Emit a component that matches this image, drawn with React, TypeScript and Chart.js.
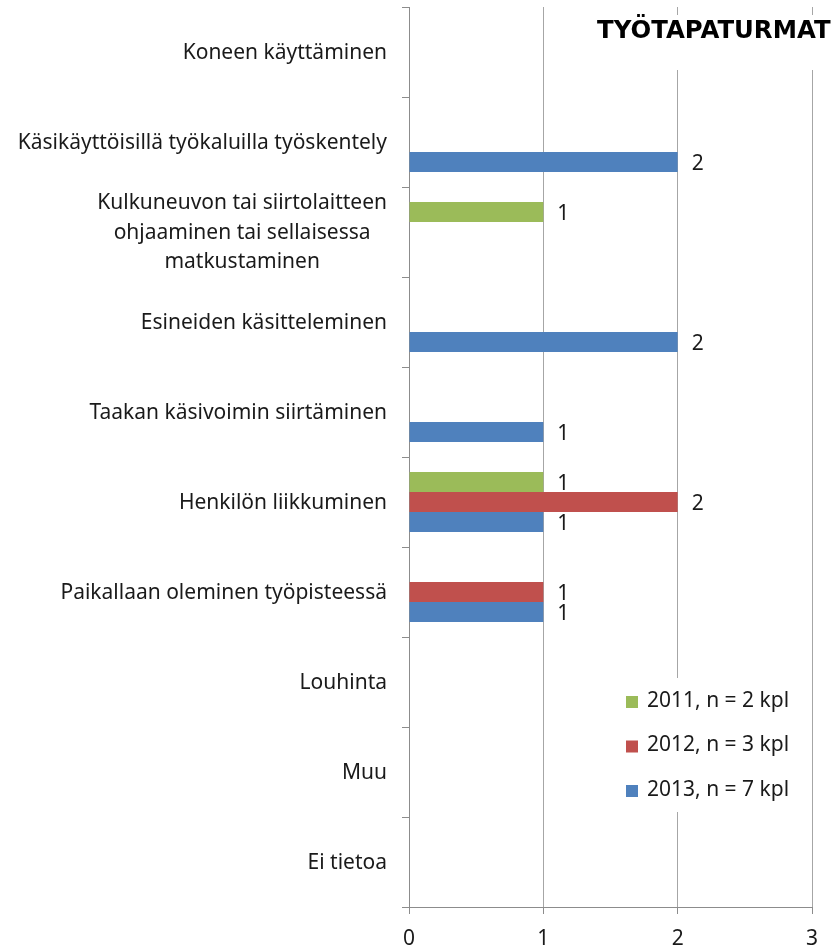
import React, { useEffect, useRef } from "react";
import { Chart, registerables } from "chart.js";
Chart.register(...registerables);

const categories: (string | string[])[] = [
  "Koneen käyttäminen",
  "Käsikäyttöisillä työkaluilla työskentely",
  ["Kulkuneuvon tai siirtolaitteen", "ohjaaminen tai sellaisessa", "matkustaminen"],
  "Esineiden käsitteleminen",
  "Taakan käsivoimin siirtäminen",
  "Henkilön liikkuminen",
  "Paikallaan oleminen työpisteessä",
  "Louhinta",
  "Muu",
  "Ei tietoa",
];
const series2011 = [null, null, 1, null, null, 1, null, null, null, null];
const series2012 = [null, null, null, null, null, 2, 1, null, null, null];
const series2013 = [null, 2, null, 2, 1, 1, 1, null, null, null];
const seriesLabels = ["2011, n = 2 kpl", "2012, n = 3 kpl", "2013, n = 7 kpl"];
const seriesColors = ["#9BBB59", "#C0504D", "#4F81BD"];
const xMin = 0;
const xMax = 3;
const titleText = "TYÖTAPATURMAT";

const FONT = '"Noto Sans", sans-serif';
const FSIZE = 21;
const TEXT = "#1a1a1a";
const GRID = "#a6a6a6";
const AXIS = "#8c8c8c";

const yLabelPlugin = {
  id: "yLabels",
  afterDraw(chart: any) {
    const ctx = chart.ctx;
    const y = chart.scales.y;
    ctx.save();
    ctx.font = `${FSIZE}px ${FONT}`;
    ctx.fillStyle = TEXT;
    ctx.textAlign = "center";
    ctx.textBaseline = "middle";
    categories.forEach((c, i) => {
      const lines = Array.isArray(c) ? c : [c];
      const w = Math.max(...lines.map((l) => ctx.measureText(l).width));
      const cx = y.right - 22 - w / 2;
      const cy = y.getPixelForTick(i) + 1;
      const lh = 29.5;
      lines.forEach((l, j) => ctx.fillText(l, cx, cy + (j - (lines.length - 1) / 2) * lh));
    });
    ctx.restore();
  },
};

const dataLabelPlugin = {
  id: "dataLabels",
  afterDatasetsDraw(chart: any) {
    const ctx = chart.ctx;
    ctx.save();
    ctx.font = `${FSIZE}px ${FONT}`;
    ctx.fillStyle = TEXT;
    ctx.textAlign = "left";
    ctx.textBaseline = "middle";
    chart.data.datasets.forEach((ds: any, di: number) => {
      const meta = chart.getDatasetMeta(di);
      meta.data.forEach((el: any, i: number) => {
        const v = ds.data[i];
        if (v === null || v === undefined) return;
        ctx.fillText(String(v), el.x + 14, el.y + 2);
      });
    });
    ctx.restore();
  },
};

const overlayPlugin = {
  id: "overlay",
  afterDraw(chart: any) {
    const ctx = chart.ctx;
    ctx.save();
    // title box
    ctx.fillStyle = "#ffffff";
    ctx.fillRect(582, 15, chart.width - 582, 55);
    ctx.fillStyle = "#000000";
    ctx.font = `bold 24.4px "DejaVu Sans", sans-serif`;
    ctx.textAlign = "left";
    ctx.textBaseline = "alphabetic";
    ctx.fillText(titleText, 597, 38);
    // legend box
    const lx = 612, ly = 678, lw = 192, lh = 134;
    ctx.fillStyle = "#ffffff";
    ctx.fillRect(lx, ly, lw, lh);
    ctx.font = `${FSIZE}px ${FONT}`;
    ctx.textBaseline = "middle";
    chart.data.datasets.forEach((ds: any, i: number) => {
      const cy = 701 + i * 44.5;
      ctx.fillStyle = ds.backgroundColor;
      ctx.fillRect(626, cy - 5, 12, 12);
      ctx.fillStyle = TEXT;
      ctx.fillText(ds.label, 647, cy);
    });
    ctx.restore();
  },
};

export default function App() {
  const ref = useRef<HTMLCanvasElement | null>(null);
  useEffect(() => {
    if (!ref.current) return;
    const chart = new Chart(ref.current, {
      type: "bar",
      data: {
        labels: categories as any,
        datasets: [series2011, series2012, series2013].map((d, i) => ({
          label: seriesLabels[i],
          data: d as any,
          backgroundColor: seriesColors[i],
          borderWidth: 0,
          barPercentage: 1,
          categoryPercentage: 0.667,
        })),
      },
      options: {
        indexAxis: "y",
        responsive: false,
        animation: false,
        layout: { padding: { top: 7, right: 23, left: 0, bottom: 0 } },
        plugins: { legend: { display: false }, tooltip: { enabled: false } },
        scales: {
          x: {
            min: xMin,
            max: xMax,
            ticks: { stepSize: 1, color: TEXT, font: { family: FONT, size: FSIZE }, padding: 12 },
            grid: { color: GRID, tickLength: 7, drawTicks: true, tickColor: AXIS },
            border: { color: AXIS },
            afterFit(s: any) {
              s.height = 40;
            },
          },
          y: {
            grid: { display: true, drawOnChartArea: false, tickLength: 7, color: AXIS, offset: true },
            ticks: { display: false },
            border: { color: AXIS },
            afterFit(s: any) {
              s.width = 409;
            },
          },
        },
      } as any,
      plugins: [yLabelPlugin, dataLabelPlugin, overlayPlugin],
    });
    return () => chart.destroy();
  }, []);
  return (
    <div style={{ position: "absolute", left: 0, top: 0, width: 835, height: 947, background: "#fff" }}>
      <canvas ref={ref} width={835} height={947} />
    </div>
  );
}
